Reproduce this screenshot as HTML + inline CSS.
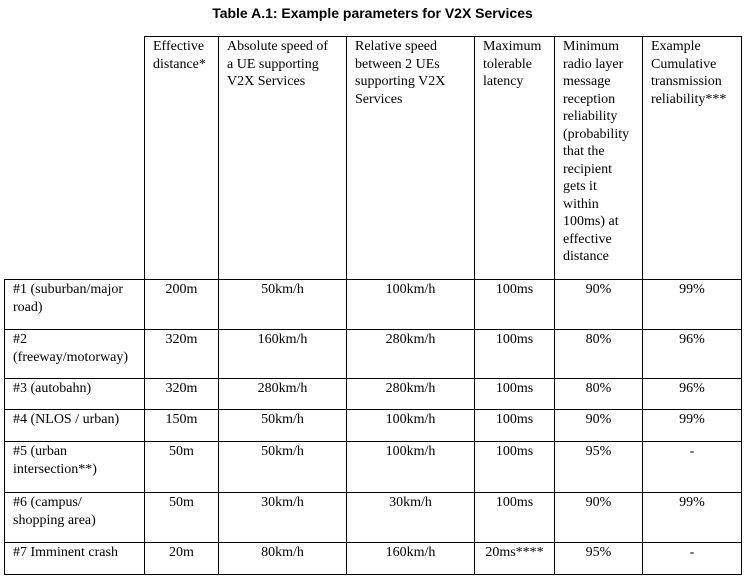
<!DOCTYPE html>
<html><head><meta charset="utf-8"><style>
body{margin:0;background:#fff;width:745px;height:577px;overflow:hidden;position:relative;font-family:"Liberation Serif",serif;color:#000}
.title{position:absolute;left:0;width:745px;top:5px;text-align:center;font:bold 14px "Liberation Sans",sans-serif}
table{position:absolute;left:4px;top:36px;border-collapse:collapse;table-layout:fixed;font-size:14px;line-height:17.5px}
td{border:1px solid #000;vertical-align:top;padding:1px 2px 0 2px;text-align:center;box-sizing:border-box;white-space:nowrap}
td.l{text-align:left;padding-left:8px}
thead td{text-align:left;padding-left:8px}
td.blank{border-top:none;border-left:none}
</style></head><body>
<div class="title">Table A.1: Example parameters for V2X Services</div>
<table>
<colgroup><col style="width:140px"><col style="width:74px"><col style="width:128px"><col style="width:128px"><col style="width:80px"><col style="width:88px"><col style="width:99px"></colgroup>
<thead><tr style="height:243px">
<td class="blank"></td>
<td>Effective<br>distance*</td>
<td>Absolute speed of<br>a UE supporting<br>V2X Services</td>
<td>Relative speed<br>between 2 UEs<br>supporting V2X<br>Services</td>
<td>Maximum<br>tolerable<br>latency</td>
<td>Minimum<br>radio layer<br>message<br>reception<br>reliability<br>(probability<br>that the<br>recipient<br>gets it<br>within<br>100ms) at<br>effective<br>distance</td>
<td>Example<br>Cumulative<br>transmission<br>reliability***</td>
</tr></thead>
<tbody>
<tr style="height:50px"><td class="l">#1 (suburban/major<br>road)</td><td>200m</td><td>50km/h</td><td>100km/h</td><td>100ms</td><td>90%</td><td>99%</td></tr>
<tr style="height:49px"><td class="l">#2<br>(freeway/motorway)</td><td>320m</td><td>160km/h</td><td>280km/h</td><td>100ms</td><td>80%</td><td>96%</td></tr>
<tr style="height:31px"><td class="l">#3 (autobahn)</td><td>320m</td><td>280km/h</td><td>280km/h</td><td>100ms</td><td>80%</td><td>96%</td></tr>
<tr style="height:32px"><td class="l">#4 (NLOS / urban)</td><td>150m</td><td>50km/h</td><td>100km/h</td><td>100ms</td><td>90%</td><td>99%</td></tr>
<tr style="height:51px"><td class="l">#5 (urban<br>intersection**)</td><td>50m</td><td>50km/h</td><td>100km/h</td><td>100ms</td><td>95%</td><td>-</td></tr>
<tr style="height:50px"><td class="l">#6 (campus/<br>shopping area)</td><td>50m</td><td>30km/h</td><td>30km/h</td><td>100ms</td><td>90%</td><td>99%</td></tr>
<tr style="height:32px"><td class="l">#7 Imminent crash</td><td>20m</td><td>80km/h</td><td>160km/h</td><td>20ms****</td><td>95%</td><td>-</td></tr>
</tbody></table>
</body></html>
